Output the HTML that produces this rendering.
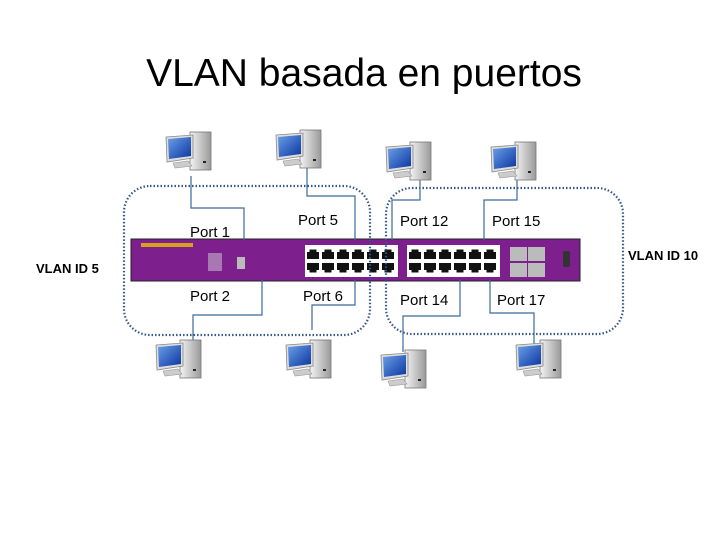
<!DOCTYPE html>
<html><head><meta charset="utf-8"><style>
html,body{margin:0;padding:0;background:#fff;}
svg{display:block;}
text{font-family:"Liberation Sans",sans-serif;}
</style></head><body>
<svg width="728" height="546" viewBox="0 0 728 546" xmlns="http://www.w3.org/2000/svg">
<defs>
<linearGradient id="scr" x1="0" y1="0" x2="1" y2="1"><stop offset="0" stop-color="#6aa0e8"/><stop offset="1" stop-color="#0a35a0"/></linearGradient>
<linearGradient id="tw" x1="0" y1="0" x2="1" y2="0"><stop offset="0" stop-color="#f4f4f4"/><stop offset="1" stop-color="#9a9a9a"/></linearGradient>
<g id="pc">
<rect x="25" y="2" width="21" height="38" fill="url(#tw)" stroke="#777" stroke-width="0.8"/>
<rect x="38" y="31" width="3" height="2" fill="#222"/>
<polygon points="1,7 28,5 28,28 2,32" fill="#ddd" stroke="#888" stroke-width="0.8"/>
<polygon points="3,9 26,7 26,26 4,29" fill="url(#scr)"/>
<polygon points="8,33 23,31 27,36 10,38" fill="#ccc" stroke="#999" stroke-width="0.6"/>
</g>
<g id="rj">
<rect x="0" y="0" width="14" height="13" fill="#fff"/>
<path d="M1 12 V5 H3.5 V2.5 H10.5 V5 H13 V12 Z" fill="#111"/>
</g>
<g id="blk">
<rect x="0" y="0" width="93" height="32" fill="#fff"/>
<use href="#rj" x="1" y="2"/><use href="#rj" x="16" y="2"/><use href="#rj" x="31" y="2"/><use href="#rj" x="46" y="2"/><use href="#rj" x="61" y="2"/><use href="#rj" x="76" y="2"/>
<g transform="translate(0,32) scale(1,-1)"><use href="#rj" x="1" y="2"/><use href="#rj" x="16" y="2"/><use href="#rj" x="31" y="2"/><use href="#rj" x="46" y="2"/><use href="#rj" x="61" y="2"/><use href="#rj" x="76" y="2"/></g>
</g>
</defs>

<text x="364" y="86" font-size="39" text-anchor="middle" fill="#000">VLAN basada en puertos</text>

<rect x="131" y="239" width="449" height="42" fill="#7e1f8e" stroke="#222" stroke-width="1"/>
<rect x="141" y="243" width="52" height="4" fill="#d9a020"/>
<rect x="208" y="253" width="14" height="18" fill="#bba0c0" opacity="0.7"/>
<rect x="237" y="257" width="8" height="12" fill="#bbb"/>
<use href="#blk" x="305" y="245"/>
<use href="#blk" x="407" y="245"/>
<rect x="510" y="247" width="17" height="14" fill="#bbb"/><rect x="528" y="247" width="17" height="14" fill="#bbb"/>
<rect x="510" y="263" width="17" height="14" fill="#bbb"/><rect x="528" y="263" width="17" height="14" fill="#bbb"/>
<rect x="563" y="251" width="7" height="16" rx="2" fill="#333"/>

<rect x="124" y="186" width="246" height="149" rx="26" fill="none" stroke="#34558a" stroke-width="2.2" stroke-dasharray="1.5 2"/>
<rect x="386" y="188" width="237" height="146" rx="26" fill="none" stroke="#34558a" stroke-width="2.2" stroke-dasharray="1.5 2"/>

<g fill="none" stroke="#3a6a9a" stroke-width="1.2">
<polyline points="191,176 191,208 244,208 244,240"/>
<polyline points="307,160 307,196 355,196 355,240"/>
<polyline points="262,280 262,315 193,315 193,348"/>
<polyline points="355,280 355,305 312,305 312,330"/>
<polyline points="420,166 420,200 392,200 392,240"/>
<polyline points="517,166 517,200 484,200 484,240"/>
<polyline points="460,280 460,316 403,316 403,352"/>
<polyline points="490,280 490,313 534,313 534,345"/>
</g>

<use href="#pc" x="165" y="130"/>
<use href="#pc" x="275" y="128"/>
<use href="#pc" x="385" y="140"/>
<use href="#pc" x="490" y="140"/>
<use href="#pc" x="155" y="338"/>
<use href="#pc" x="285" y="338"/>
<use href="#pc" x="380" y="348"/>
<use href="#pc" x="515" y="338"/>

<g font-size="15" fill="#000">
<text x="190" y="237">Port 1</text>
<text x="298" y="225">Port 5</text>
<text x="400" y="226">Port 12</text>
<text x="492" y="226">Port 15</text>
<text x="190" y="301">Port 2</text>
<text x="303" y="301">Port 6</text>
<text x="400" y="305">Port 14</text>
<text x="497" y="305">Port 17</text>
</g>
<text x="36" y="273" font-size="13" font-weight="bold">VLAN ID 5</text>
<text x="628" y="260" font-size="13" font-weight="bold">VLAN ID 10</text>
</svg>
</body></html>
